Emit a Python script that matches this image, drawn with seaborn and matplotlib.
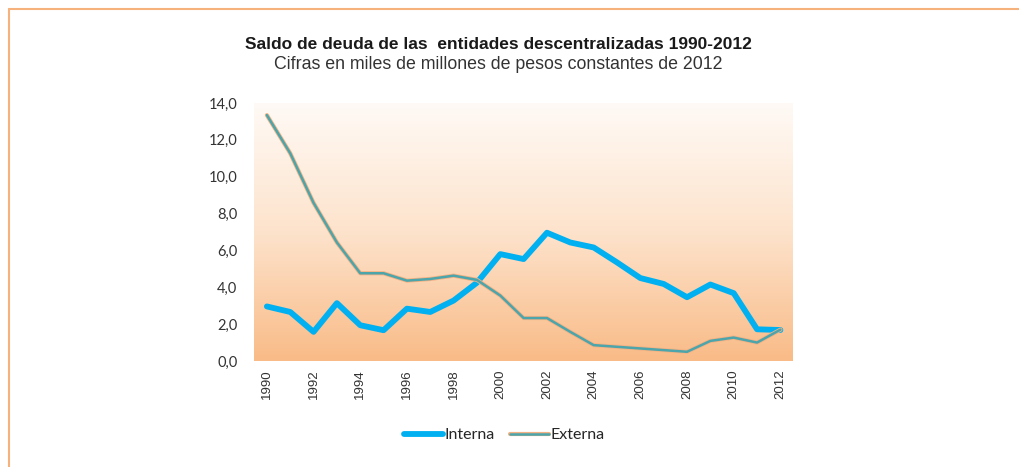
import numpy as np
import pandas as pd
import matplotlib.pyplot as plt
import matplotlib.patheffects as pe
from matplotlib.colors import LinearSegmentedColormap
from matplotlib.lines import Line2D
import seaborn as sns

# Saldo de deuda, miles de millones de pesos constantes de 2012
years = list(range(1990, 2013))
interna = [2.96, 2.66, 1.58, 3.14, 1.94, 1.67, 2.84, 2.66, 3.28, 4.25, 5.8, 5.53,
           6.96, 6.43, 6.16, 5.35, 4.5, 4.18, 3.46, 4.15, 3.68, 1.72, 1.68]
externa = [13.34, 11.27, 8.58, 6.43, 4.76, 4.76, 4.36, 4.45, 4.63, 4.4, 3.55, 2.33,
           2.33, 1.58, 0.86, 0.77, 0.68, 0.59, 0.5, 1.09, 1.27, 1.0, 1.7]

df = pd.DataFrame({'Año': years * 2,
                   'Saldo': interna + externa,
                   'Serie': ['Interna'] * len(years) + ['Externa'] * len(years)})

sns.set_theme(style='white')
plt.rcParams['font.family'] = ['Liberation Sans', 'DejaVu Sans']

fig = plt.figure(figsize=(10.19, 4.67), dpi=100)
ax = fig.add_axes([0.2493, 0.227, 0.528, 0.5525])

# fondo degradado del area de trazado
cmap = LinearSegmentedColormap.from_list('peach', ['#f9bb87', '#fde3cc', '#fffaf6'])
grad = np.linspace(0, 1, 256).reshape(-1, 1)
ax.imshow(grad, aspect='auto', cmap=cmap, origin='lower',
          extent=[1989.45, 2012.5, 0, 14], zorder=0)

sns.lineplot(data=df, x='Año', y='Saldo', hue='Serie',
             palette={'Interna': '#00b0f0', 'Externa': '#4ba5ab'},
             ax=ax, legend=False, zorder=3)
l_int, l_ext = ax.get_lines()[:2]
l_int.set_linewidth(4.2)
l_ext.set_linewidth(1.8)
l_ext.set_path_effects([pe.Stroke(linewidth=3.0, foreground='#f4b183'), pe.Normal()])

ax.set_xlim(1989.45, 2012.5)
ax.set_ylim(0, 14)
ax.set_xticks(range(1990, 2013, 2))
ax.set_xticklabels([str(y) for y in range(1990, 2013, 2)], rotation=90, fontsize=9.5, color='#333333')
ax.set_yticks(np.arange(0, 15, 2))
ax.set_yticklabels([f'{v:.1f}'.replace('.', ',') for v in np.arange(0, 15, 2)],
                   fontsize=10.5, color='#333333', family=['Lato', 'DejaVu Sans'])
ax.tick_params(axis='y', pad=12, length=0)
ax.tick_params(axis='x', pad=6, length=0)
ax.set_xlabel('')
ax.set_ylabel('')
for s in ax.spines.values():
    s.set_visible(False)

fig.text(0.489, 0.905, 'Saldo de deuda de las  entidades descentralizadas 1990-2012',
         ha='center', va='center', fontsize=12.5, fontweight='bold', color='#1a1a1a',
         family=['Liberation Sans Narrow', 'Liberation Sans'], fontstretch='condensed')
fig.text(0.489, 0.862, 'Cifras en miles de millones de pesos constantes de 2012',
         ha='center', va='center', fontsize=12.8, color='#333333',
         family=['Liberation Sans Narrow', 'Liberation Sans'], fontstretch='condensed')

handles = [Line2D([], [], color='#00b0f0', lw=4.2),
           Line2D([], [], color='#4ba5ab', lw=1.8,
                  path_effects=[pe.Stroke(linewidth=3.0, foreground='#f4b183'), pe.Normal()])]
fig.legend(handles, ['Interna', 'Externa'], loc='center', bbox_to_anchor=(0.495, 0.068),
           ncol=2, frameon=False, handlelength=2.4, handletextpad=0.1, columnspacing=1.0,
           prop={'family': ['Lato', 'DejaVu Sans'], 'size': 11.5})

# marco naranja de la pagina
fig.add_artist(Line2D([0.0093, 1.0], [0.9797, 0.9797], color='#f5b27c', lw=1.5))
fig.add_artist(Line2D([0.0093, 0.0093], [0.0, 0.9797], color='#f5b27c', lw=1.5))

fig.savefig('out.png', dpi=100)
